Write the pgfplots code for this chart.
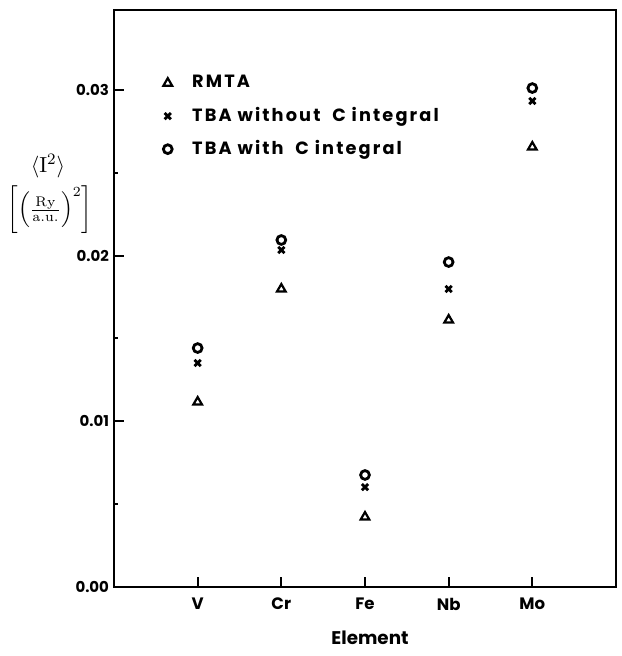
\documentclass[border=0pt]{standalone}
\usepackage[no-math]{fontspec}
\setmainfont{Poppins}
\newfontfamily\legfam[LetterSpace=12]{Poppins}
\usepackage{pgfplots}
\pgfplotsset{compat=1.18}
\begin{document}
\begin{tikzpicture}
\begin{axis}[
  scale only axis, width=251bp, height=288.5bp,
  xmin=0, xmax=6, ymin=0, ymax=0.03482,
  scaled y ticks=false,
  axis line style={line width=1bp},
  xtick={1,2,3,4,5}, xticklabels={V,Cr,Fe,Nb,Mo},
  ytick={0,0.01,0.02,0.03}, yticklabels={0.00,0.01,0.02,0.03},
  minor ytick={0.005,0.015,0.025},
  tick align=inside, xtick pos=bottom, ytick pos=left,
  major tick length=5bp, minor tick length=2bp,
  every tick/.style={black, line width=1bp},
  xticklabel style={font=\fontsize{8.3}{10}\selectfont\bfseries, yshift=-2bp},
  yticklabel style={font=\fontsize{7.5}{9}\selectfont\bfseries, xshift=1bp},
  legend style={at={(rel axis cs:0.0896,0.9025)}, anchor=north west, draw=none, fill=none,
    inner sep=0pt, row sep=0pt, column sep=8bp,
    font=\legfam\fontsize{8.9}{11}\selectfont\bfseries,
    nodes={minimum height=16.5bp, inner sep=0pt}, cells={anchor=west}},
  legend image code/.code={\path (-4bp,0) (4bp,0); \draw[#1] plot coordinates {(0bp,0bp)};},
]
\addplot[only marks, mark=triangle, mark size=2.5bp, mark options={line width=1.1bp}]
  coordinates {(1,0.01116) (2,0.01798) (3,0.00422) (4,0.01611) (5,0.02655)};
\addlegendentry{RMTA}
\addplot[only marks, mark=x, mark size=2.2bp, mark options={line width=1.4bp}]
  coordinates {(1,0.01352) (2,0.02034) (3,0.00603) (4,0.01798) (5,0.02933)};
\addlegendentry{TBA without~~C integral}
\addplot[only marks, mark=o, mark size=2.2bp, mark options={line width=1.4bp}]
  coordinates {(1,0.01442) (2,0.02094) (3,0.00676) (4,0.01961) (5,0.03011)};
\addlegendentry{TBA with~~C integral}
\coordinate (O) at (rel axis cs:0,0);
\end{axis}
\node at ([shift={(-33bp,210.5bp)}]O) {\fontsize{11}{13}\selectfont$\langle \mathrm{I}^{2}\rangle$};
\node at ([shift={(-32bp,188.5bp)}]O) {\fontsize{10}{12}\selectfont$\left[\left(\frac{\mathrm{Ry}}{\mathrm{a.u.}}\right)^{2}\right]$};
\node[font=\fontsize{9.2}{11}\selectfont\bfseries] at ([shift={(128bp,-25.5bp)}]O) {Element};
\path ([shift={(-57bp,-34.5bp)}]O) rectangle ++(311bp,328bp);
\end{tikzpicture}
\end{document}
